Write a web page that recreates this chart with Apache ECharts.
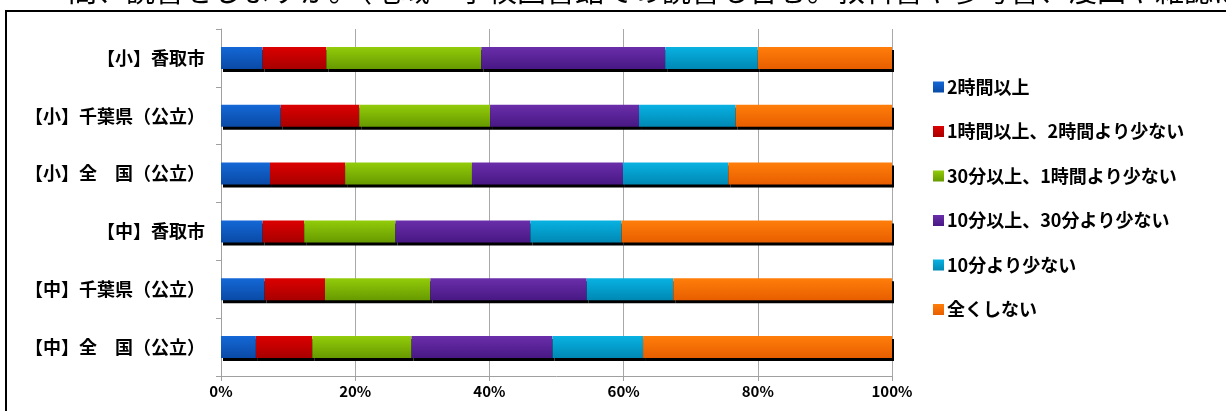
<!DOCTYPE html>
<html>
<head>
<meta charset="utf-8">
<title>読書時間</title>
<script src="https://cdn.jsdelivr.net/npm/echarts@6/dist/echarts.min.js"></script>
<style>
  html, body { margin: 0; padding: 0; background: #fff; }
</style>
</head>
<body>
<div id="main" style="width:1226px;height:411px;"></div>
<script type="text/javascript">
// 区分（上から順）
var categories = ['【小】香取市', '【小】千葉県（公立）', '【小】全　国（公立）', '【中】香取市', '【中】千葉県（公立）', '【中】全　国（公立）'];
var seriesNames = ['2時間以上', '1時間以上、2時間より少ない', '30分以上、1時間より少ない', '10分以上、30分より少ない', '10分より少ない', '全くしない'];
// 割合 (%)
var over2h    = [6.2, 8.9, 7.3, 6.2, 6.5, 5.2];
var h1to2     = [9.5, 11.7, 11.2, 6.2, 9.0, 8.4];
var m30to60   = [23.1, 19.5, 18.9, 13.6, 15.7, 14.8];
var m10to30   = [27.4, 22.2, 22.5, 20.1, 23.3, 21.0];
var under10   = [13.8, 14.4, 15.7, 13.6, 12.9, 13.5];
var never     = [20.0, 23.3, 24.4, 40.3, 32.6, 37.1];
var xTicks = [0, 20, 40, 60, 80, 100];

var seriesData = [over2h, h1to2, m30to60, m10to30, under10, never];
var colorPairs = [
  ['#1468d6', '#0a4aa6'],
  ['#dc0000', '#a80000'],
  ['#92cc0a', '#679a00'],
  ['#6a2eaa', '#481884'],
  ['#08b2e2', '#0088b4'],
  ['#ff7e0a', '#e85e00']
];

function grad(c) {
  return new echarts.graphic.LinearGradient(0, 0, 0, 1, [
    { offset: 0, color: c[0] },
    { offset: 1, color: c[1] }
  ]);
}

var myChart = echarts.init(document.getElementById('main'));
var font = '"Noto Sans CJK JP", "Noto Sans", sans-serif';

var option = {
  animation: false,
  textStyle: { fontFamily: font },
  graphic: [
    {
      type: 'rect',
      shape: { x: 6, y: 11, width: 1240, height: 420 },
      style: { fill: 'none', stroke: '#000', lineWidth: 2 }
    },
    {
      type: 'text',
      left: 68,
      top: -24,
      style: {
        text: '間、読書をしますか。（地域・学校図書館での読書も含む。教科書や参考書、漫画や雑誌は除く',
        font: '29px ' + font,
        fill: '#000'
      }
    }
  ],
  legend: {
    orient: 'vertical',
    left: 928,
    top: 73,
    itemWidth: 11,
    itemHeight: 11,
    itemGap: 26.5,
    icon: 'rect',
    data: seriesNames,
    textStyle: { fontSize: 18, lineHeight: 18, fontWeight: 'bold', color: '#000', fontFamily: font, padding: [0, 0, 0, -2] }
  },
  grid: { left: 221, right: 334, top: 29, bottom: 35, containLabel: false },
  xAxis: {
    type: 'value',
    min: 0,
    max: 100,
    interval: 20,
    axisLine: { show: true, lineStyle: { color: '#a0a0a0', width: 1 } },
    axisTick: { show: true, length: 5, lineStyle: { color: '#a0a0a0' } },
    splitLine: { show: true, lineStyle: { color: '#a8a8a8', width: 1 } },
    axisLabel: {
      margin: 8,
      fontSize: 15,
      fontWeight: 'bold',
      color: '#000',
      formatter: function (v) { return xTicks.indexOf(v) >= 0 ? v + '%' : ''; }
    }
  },
  yAxis: {
    type: 'category',
    inverse: true,
    data: categories,
    axisLine: { show: true, lineStyle: { color: '#a0a0a0', width: 1 } },
    axisTick: { show: true, length: 5, lineStyle: { color: '#a0a0a0' } },
    axisLabel: { margin: 16, fontSize: 18, fontWeight: 'bold', color: '#000' }
  },
  series: seriesNames.map(function (name, i) {
    return {
      name: name,
      type: 'bar',
      stack: 'total',
      barWidth: 22,
      data: seriesData[i],
      itemStyle: {
        color: grad(colorPairs[i]),
        shadowColor: '#000',
        shadowBlur: 0,
        shadowOffsetX: 2,
        shadowOffsetY: 3
      },
      emphasis: { disabled: true }
    };
  })
};

myChart.setOption(option);
</script>
</body>
</html>
